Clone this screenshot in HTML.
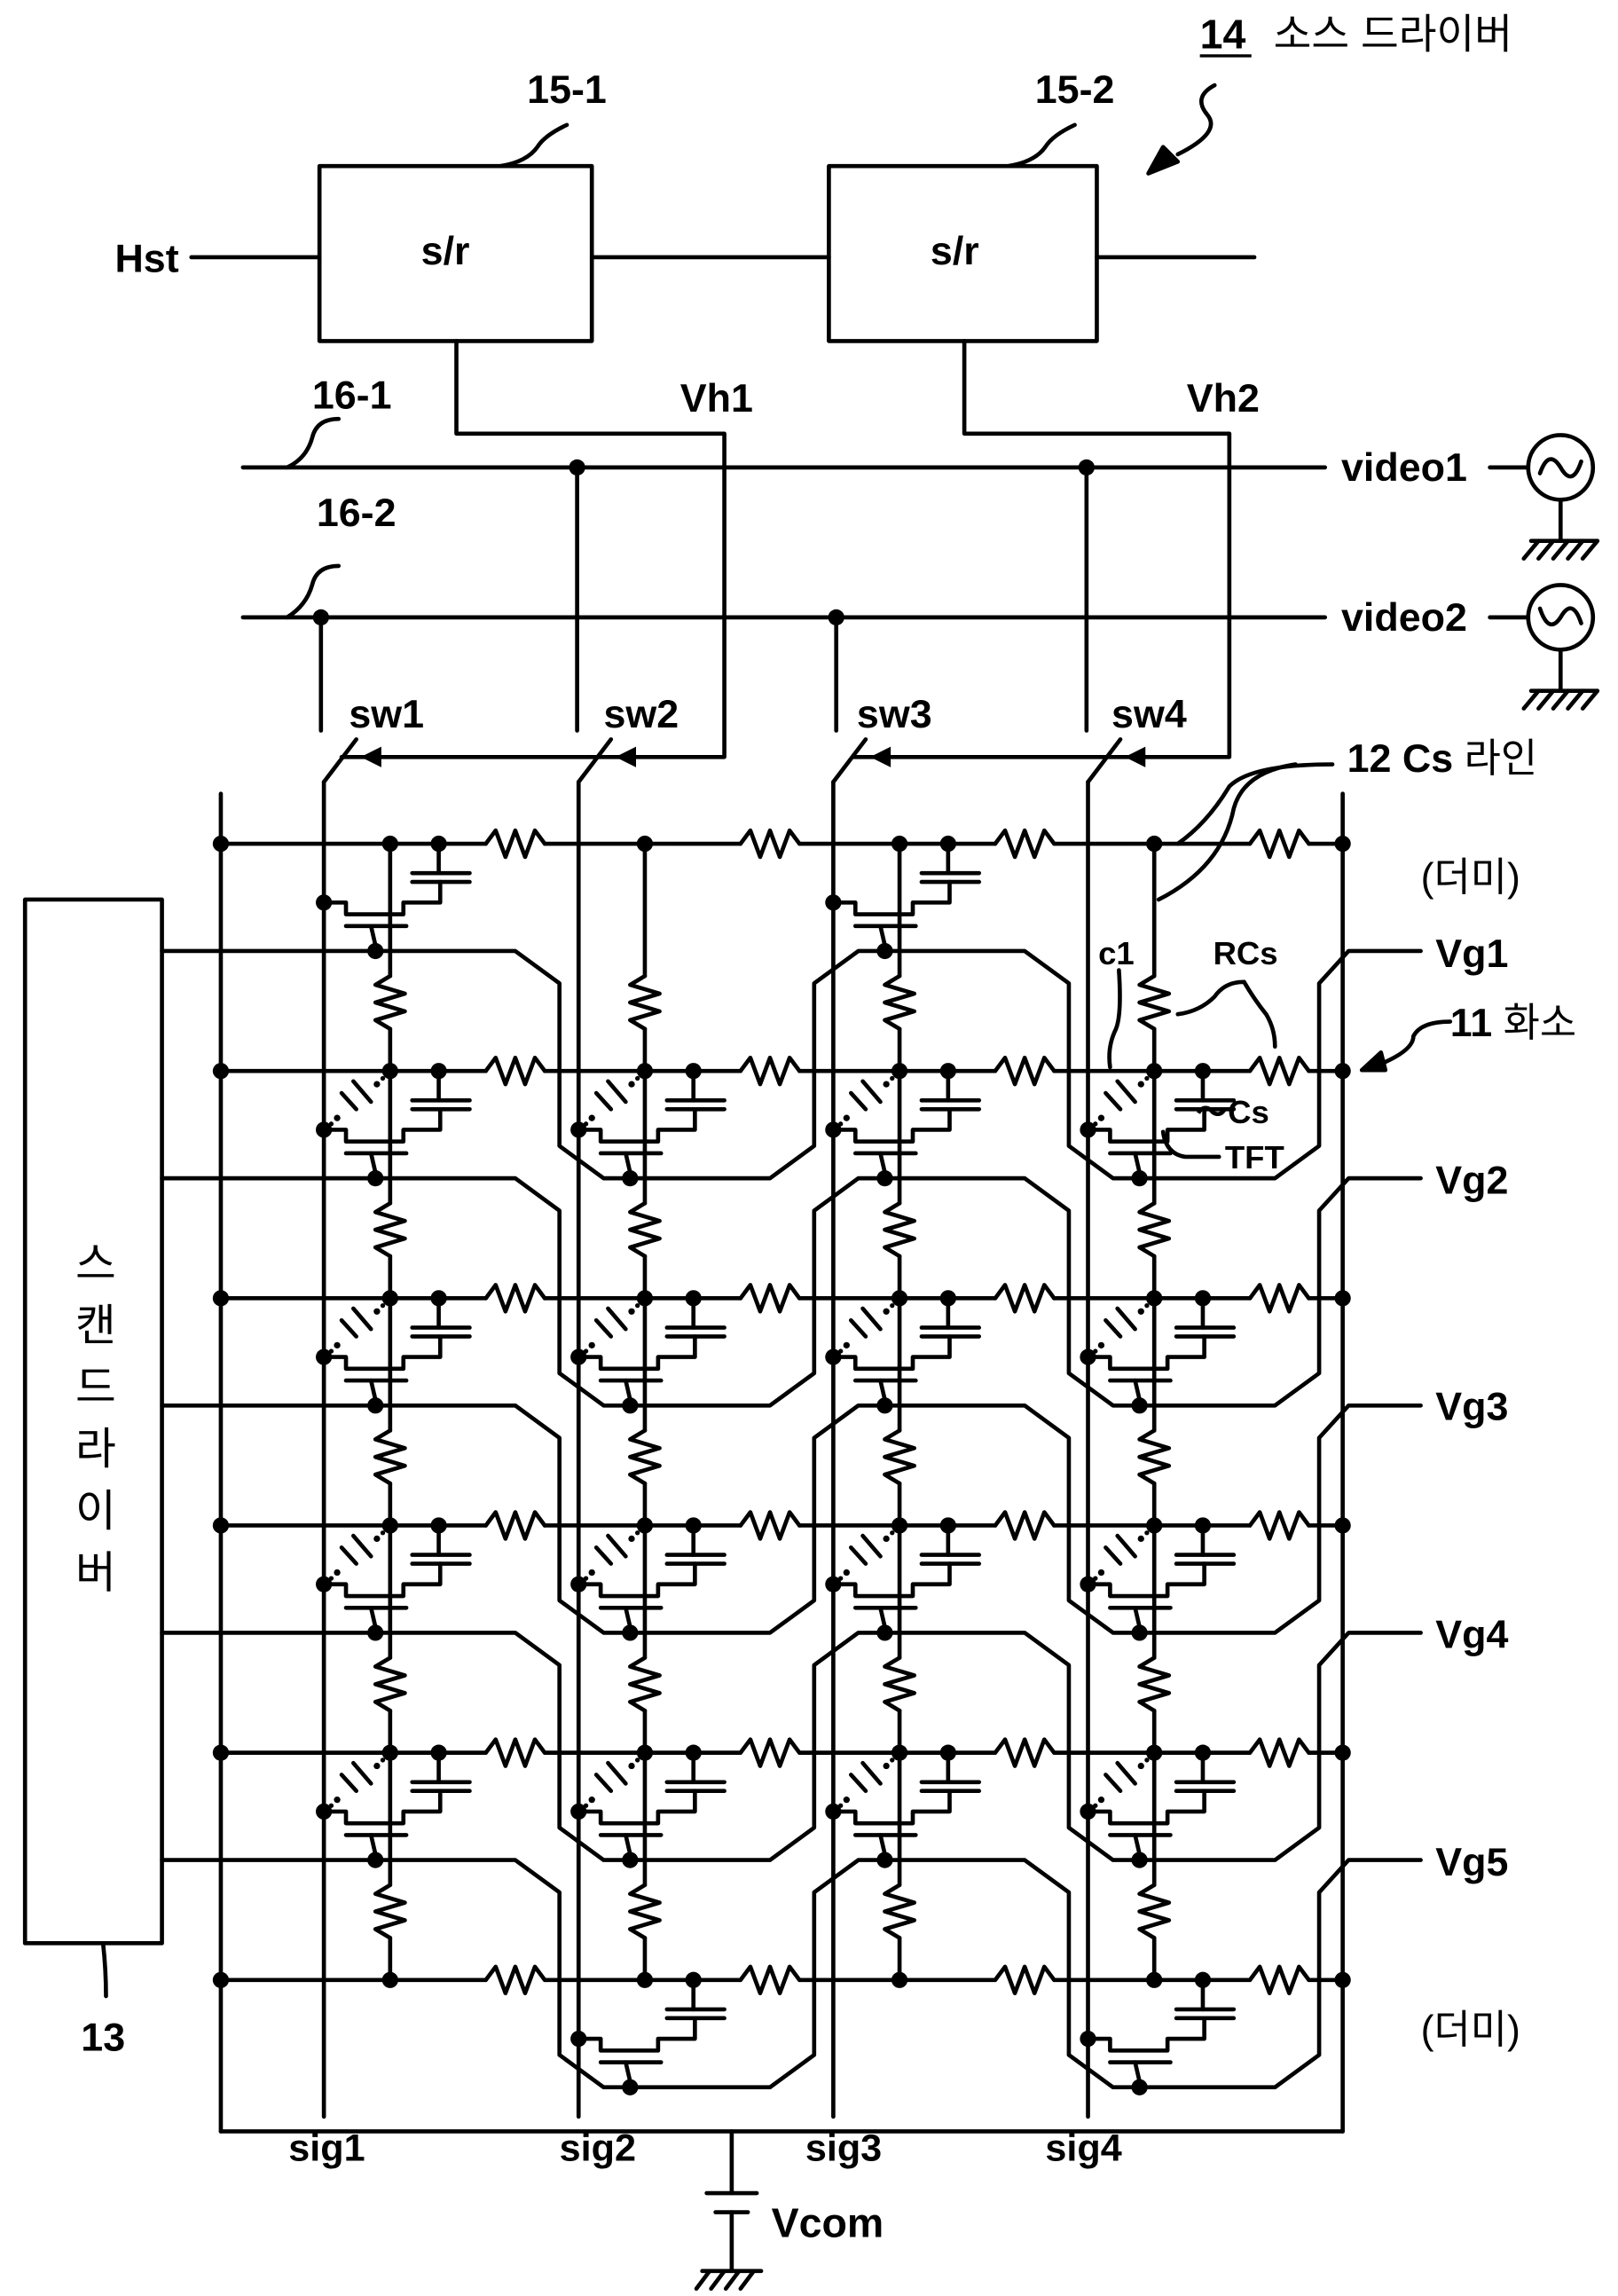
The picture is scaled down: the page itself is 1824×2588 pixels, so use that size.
<!DOCTYPE html>
<html><head><meta charset="utf-8"><style>
html,body{margin:0;padding:0;background:#fff;}
svg{display:block;}
text{font-family:"Liberation Sans","Noto Sans CJK KR",sans-serif;fill:#000;}
</style></head><body>
<svg id="s" width="1824" height="2588" viewBox="0 0 1099 1562" preserveAspectRatio="none" xmlns="http://www.w3.org/2000/svg">
<g id="g" fill="none" stroke="#000" stroke-width="2.8" stroke-linejoin="round" stroke-linecap="round">
<rect x="217" y="113" width="185" height="119"/>
<rect x="563" y="113" width="182" height="119"/>
<line x1="130" y1="175" x2="217" y2="175"/>
<line x1="402" y1="175" x2="563" y2="175"/>
<line x1="745" y1="175" x2="852" y2="175"/>
<path d="M385 85 Q370 92 365 100 Q358 110 340 113"/>
<path d="M730 85 Q715 92 710 100 Q703 110 685 113"/>
<path d="M825 58 Q810 66 820 78 Q830 90 800 105"/>
<polygon points="780,118 790,100 800,110" fill="#000"/>
<polyline points="310,232 310,295 492,295 492,515 232,515"/>
<polyline points="655,232 655,295 835,295 835,515 580,515"/>
<line x1="165" y1="318" x2="900" y2="318"/>
<line x1="165" y1="420" x2="900" y2="420"/>
<line x1="1012" y1="318" x2="1038" y2="318"/>
<line x1="1012" y1="420" x2="1038" y2="420"/>
<circle cx="1060" cy="318" r="22"/>
<circle cx="1060" cy="420" r="22"/>
<path d="M1046 322 Q1052 305 1060 318 Q1068 332 1074 314"/>
<path d="M1046 414 Q1052 432 1060 420 Q1068 406 1074 424"/>
<line x1="1060" y1="340" x2="1060" y2="368"/>
<line x1="1060" y1="442" x2="1060" y2="470"/>
<line x1="1040" y1="368" x2="1085" y2="368"/>
<line x1="1040" y1="470" x2="1085" y2="470"/>
<path d="M1045 368 l-10 12 M1055 368 l-10 12 M1065 368 l-10 12 M1075 368 l-10 12 M1085 368 l-10 12"/>
<path d="M1045 470 l-10 12 M1055 470 l-10 12 M1065 470 l-10 12 M1075 470 l-10 12 M1085 470 l-10 12"/>
<path d="M230 285 Q215 285 212 298 Q208 312 195 318"/>
<path d="M230 385 Q215 385 212 398 Q208 412 195 420"/>
<rect x="17" y="612" width="93" height="710"/>
<path d="M70 1322 Q72 1340 72 1358"/>
<line x1="150" y1="540" x2="150" y2="1450"/>
<line x1="912" y1="540" x2="912" y2="1450"/>
<line x1="150" y1="1450" x2="912" y2="1450"/>
<line x1="497" y1="1450" x2="497" y2="1492"/>
<line x1="480" y1="1492" x2="514" y2="1492"/>
<line x1="486" y1="1505" x2="508" y2="1505"/>
<line x1="497" y1="1505" x2="497" y2="1545"/>
<line x1="477" y1="1545" x2="517" y2="1545"/>
<path d="M482 1545 l-9 12 M492 1545 l-9 12 M502 1545 l-9 12 M512 1545 l-9 12"/>
<path d="M905 520 Q850 520 835 535 Q820 560 800 574"/>
<path d="M880 520 Q845 525 838 550 Q830 590 787 612"/>
<path d="M760 660 Q762 690 758 700 Q752 712 754 726"/>
<path d="M845 668 Q832 668 825 678 Q815 688 800 690"/>
<path d="M845 668 Q852 680 860 690 Q866 700 866 712"/>
<path d="M985 695 Q965 695 960 705 Q960 715 935 725"/>
<polygon points="925,728 938,716 941,728" fill="#000"/>
<path d="M790 770 Q792 785 805 787 L828 787"/>
</g>
<g id="d" fill="#000" stroke="none"></g>
<g font-size="27" font-weight="600">
<text x="78" y="185">Hst</text>
<text x="286" y="180">s/r</text>
<text x="632" y="180">s/r</text>
<text x="358" y="70">15-1</text>
<text x="703" y="70">15-2</text>
<text x="815" y="33" font-size="28">14</text>
<text x="865" y="33" font-size="28" font-weight="400">소스 드라이버</text>
<text x="462" y="280">Vh1</text>
<text x="806" y="280">Vh2</text>
<text x="212" y="278">16-1</text>
<text x="215" y="358">16-2</text>
<text x="911" y="327">video1</text>
<text x="911" y="429">video2</text>
<text x="237" y="495">sw1</text>
<text x="410" y="495">sw2</text>
<text x="582" y="495">sw3</text>
<text x="755" y="495">sw4</text>
<text x="915" y="525">12 Cs <tspan font-weight="400">라인</tspan></text>
<text x="965" y="606" font-weight="400">(더미)</text>
<text x="965" y="1390" font-weight="400">(더미)</text>
<text x="975" y="658">Vg1</text>
<text x="975" y="812">Vg2</text>
<text x="975" y="966">Vg3</text>
<text x="975" y="1121">Vg4</text>
<text x="975" y="1276">Vg5</text>
<text x="746" y="656" font-size="22">c1</text>
<text x="824" y="656" font-size="22">RCs</text>
<text x="985" y="705">11 <tspan font-weight="400">화소</tspan></text>
<text x="812" y="764" font-size="22">～Cs</text>
<text x="832" y="795" font-size="22">TFT</text>
<text x="196" y="1470" font-size="26">sig1</text>
<text x="380" y="1470" font-size="26">sig2</text>
<text x="547" y="1470" font-size="26">sig3</text>
<text x="710" y="1470" font-size="26">sig4</text>
<text x="524" y="1522" font-size="28">Vcom</text>
<text x="55" y="1395">13</text>
<g font-size="30" text-anchor="middle" font-weight="400">
<text x="65" y="870">스</text><text x="65" y="912">캔</text><text x="65" y="954">드</text>
<text x="65" y="996">라</text><text x="65" y="1038">이</text><text x="65" y="1080">버</text>
</g>
</g>
<line x1="815" y1="38" x2="850" y2="38" stroke="#000" stroke-width="2"/>
</svg>
<script>
var NS="http://www.w3.org/2000/svg",G=document.getElementById("g"),D=document.getElementById("d");
function el(t,a,p){var e=document.createElementNS(NS,t);for(var k in a)e.setAttribute(k,a[k]);(p||G).appendChild(e);return e;}
function P(d){el("path",{d:d});}
function dot(x,y,r){el("circle",{cx:x,cy:y,r:r||5.5},D);}
function rH(x1,x2,y){var n=6,w=(x2-x1)/n,d="M"+x1+" "+y;for(var i=1;i<n;i++){d+=" L"+(x1+w*i)+" "+(y+(i%2?-9:9));}d+=" L"+x2+" "+y;return d;}
function rV(x,y1,y2){var n=6,w=(y2-y1)/n,d="M"+x+" "+y1;for(var i=1;i<n;i++){d+=" L"+(x+(i%2?-10:10))+" "+(y1+w*i);}d+=" L"+x+" "+y2;return d;}
var X=[220,393,566,739],Y=[];for(var r=0;r<6;r++)Y.push(574+154.6*r);
var up=[[218,420],[392,318],[568,420],[738,318]];
for(var i=0;i<4;i++){var x=X[i];
 P("M"+up[i][0]+" "+up[i][1]+" L"+up[i][0]+" 497");
 P("M"+x+" 532 L"+(x+22)+" 503");
 P("M"+x+" 532 L"+x+" 1440");
 dot(up[i][0],up[i][1]);
 var ax=x+25;el("polygon",{points:ax+",515 "+(ax+14)+",508 "+(ax+14)+",522"},D);
}
for(var r=0;r<6;r++){var y=Y[r],d="M150 "+y;
 for(var j=0;j<4;j++){d+=" L"+(X[j]+110)+" "+y;P(d);P(rH(X[j]+110,X[j]+150,y));d="M"+(X[j]+150)+" "+y;}
 d+=" L912 "+y;P(d);dot(150,y);dot(912,y);
 for(var j=0;j<4;j++)dot(X[j]+45,y);
}
for(var j=0;j<4;j++){var x=X[j]+45;for(var r=0;r<5;r++){P("M"+x+" "+Y[r]+" L"+x+" "+(Y[r]+90));P(rV(x,Y[r]+90,Y[r]+126));P("M"+x+" "+(Y[r]+126)+" L"+x+" "+Y[r+1]);}}
for(var k=1;k<=5;k++){var t=Y[k-1]+73,b=Y[k]+73,p=[[110,t]];
 for(var j=0;j<4;j++){var x=X[j],a=(j%2==0)?t:b,c=(j%2==0)?b:t,s=(j%2==0)?1:-1;
  if(j<3){p.push([x+130,a],[x+160,a+22*s],[x+160,c-22*s],[x+190,c]);}
  else{p.push([x+127,a],[x+157,a-22],[x+157,c+22],[x+177,c],[965,c]);}
 }
 el("polyline",{points:p.map(function(q){return q.join(",")}).join(" ")});
}
for(var r=0;r<6;r++)for(var j=0;j<4;j++){
 var odd=(j%2==0);if(!((odd&&r<=4)||(!odd&&r>=1)))continue;
 var x=X[j],y=Y[r],g=y+73;
 dot(x+78,y);
 P("M"+(x+78)+" "+y+" L"+(x+78)+" "+(y+20));
 P("M"+(x+60)+" "+(y+20)+" L"+(x+99)+" "+(y+20));
 P("M"+(x+60)+" "+(y+26)+" L"+(x+99)+" "+(y+26));
 P("M"+(x+79)+" "+(y+26)+" L"+(x+79)+" "+(y+40)+" L"+(x+54)+" "+(y+40)+" L"+(x+54)+" "+(y+48)+" L"+(x+15)+" "+(y+48)+" L"+(x+15)+" "+(y+40)+" L"+x+" "+(y+40));
 dot(x,y+40);
 P("M"+(x+15)+" "+(y+56)+" L"+(x+56)+" "+(y+56));
 P("M"+(x+32)+" "+(y+56)+" L"+(x+35)+" "+(g-4));
 dot(x+35,g);
 if(r>=1&&r<=4){
  P("M"+(x+12)+" "+(y+15)+" L"+(x+22)+" "+(y+26));
  P("M"+(x+20)+" "+(y+7)+" L"+(x+32)+" "+(y+21));
  dot(x+36,y+9,2.2);dot(x+9,y+32,2.2);dot(x+40,y+5,1.6);dot(x+5,y+36,1.6);
 }
}
</script>
</body></html>
